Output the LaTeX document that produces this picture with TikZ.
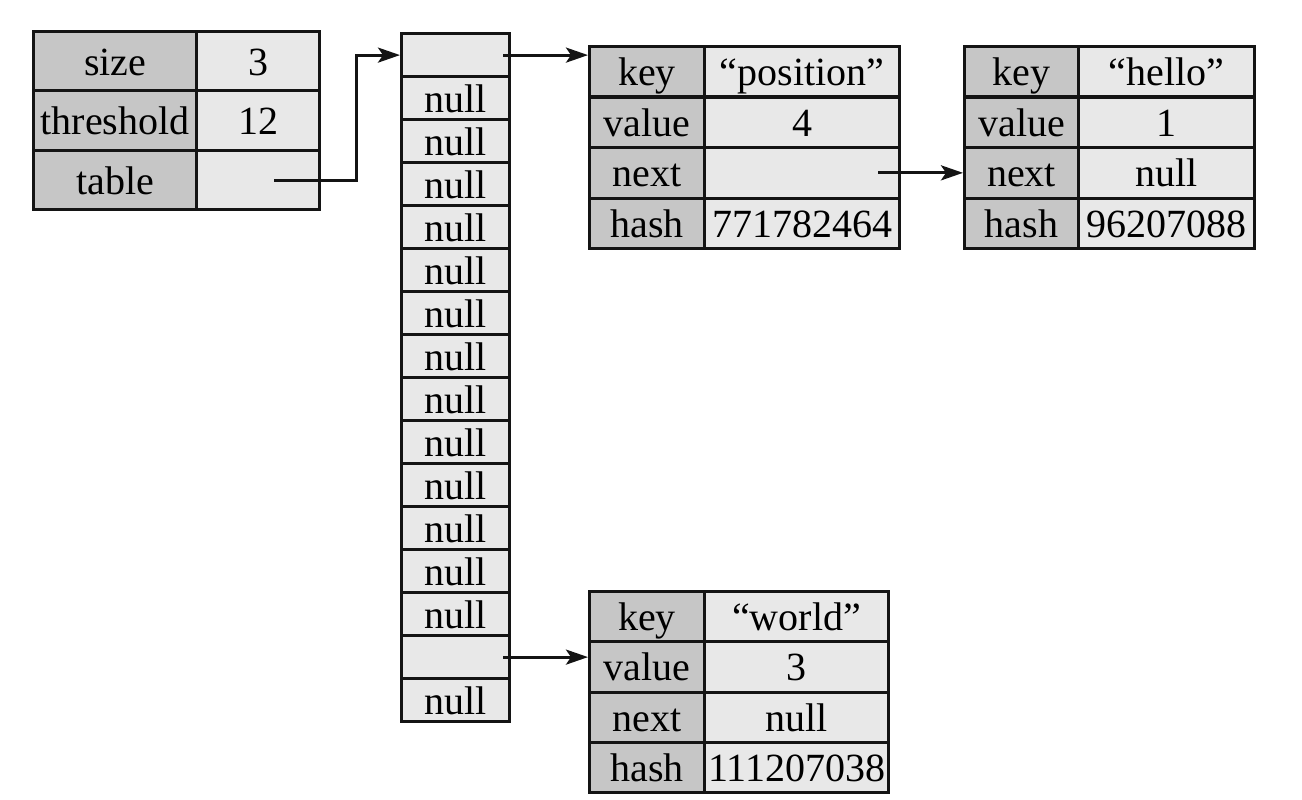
\documentclass[tikz,border=0pt]{standalone}
\usepackage{fontspec}
\setmainfont{Liberation Serif}
\usetikzlibrary{arrows.meta}
\definecolor{keygray}{RGB}{198,198,198}
\definecolor{valgray}{RGB}{232,232,232}
\definecolor{linec}{RGB}{20,20,20}
\newcommand\cellfnt{\fontsize{40}{40}\selectfont}
\tikzset{
  basecell/.style={draw=linec, line width=3.2pt, anchor=north west, inner sep=0pt,
    text height=28pt, text depth=0pt, font=\cellfnt},
  kcell/.style={basecell, fill=keygray},
  vcell/.style={basecell, fill=valgray},
  acell/.style={basecell, fill=valgray, minimum width=108pt, minimum height=43pt},
  arr/.style={draw=linec, line width=3pt, -{Stealth[length=22pt,width=15pt,inset=5pt]}},
}
\begin{document}
\begin{tikzpicture}[x=1pt,y=-1pt]
\useasboundingbox (0,0) rectangle (1302,800);
% HashMap header
\node[kcell, minimum width=163pt, minimum height=59pt] (sizeK) at (32,30) {size};
\node[vcell, minimum width=123pt, minimum height=59pt] (sizeV) at (195,30) {3};
\node[kcell, minimum width=163pt, minimum height=60pt] (thrK) at (32,89) {threshold};
\node[vcell, minimum width=123pt, minimum height=60pt] (thrV) at (195,89) {12};
\node[kcell, minimum width=163pt, minimum height=59pt] (tabK) at (32,149) {table};
\node[vcell, minimum width=123pt, minimum height=59pt] (tabV) at (195,149) {};
% table array
\foreach \i in {1,...,16}{
  \pgfmathsetmacro\yy{32+43*(\i-1)}
  \node[acell] (a\i) at (400,\yy) {\ifnum\i=1 \else\ifnum\i=15 \else null\fi\fi};
}
% entry "position"
\node[kcell, minimum width=115pt, minimum height=50.5pt] (e1kk) at (588,45) {key};
\node[vcell, minimum width=195pt, minimum height=50.5pt] (e1kv) at (703,45) {“position”};
\node[kcell, minimum width=115pt, minimum height=50.5pt] (e1vk) at (588,95.5) {value};
\node[vcell, minimum width=195pt, minimum height=50.5pt] (e1vv) at (703,95.5) {4};
\node[kcell, minimum width=115pt, minimum height=50.5pt] (e1nk) at (588,146) {next};
\node[vcell, minimum width=195pt, minimum height=50.5pt] (e1nv) at (703,146) {};
\node[kcell, minimum width=115pt, minimum height=50.5pt] (e1hk) at (588,196.5) {hash};
\node[vcell, minimum width=195pt, minimum height=50.5pt] (e1hv) at (703,196.5) {771782464};
% entry "hello"
\node[kcell, minimum width=114pt, minimum height=50.5pt] (e2kk) at (963,45) {key};
\node[vcell, minimum width=176pt, minimum height=50.5pt] (e2kv) at (1077,45) {“hello”};
\node[kcell, minimum width=114pt, minimum height=50.5pt] (e2vk) at (963,95.5) {value};
\node[vcell, minimum width=176pt, minimum height=50.5pt] (e2vv) at (1077,95.5) {1};
\node[kcell, minimum width=114pt, minimum height=50.5pt] (e2nk) at (963,146) {next};
\node[vcell, minimum width=176pt, minimum height=50.5pt] (e2nv) at (1077,146) {null};
\node[kcell, minimum width=114pt, minimum height=50.5pt] (e2hk) at (963,196.5) {hash};
\node[vcell, minimum width=176pt, minimum height=50.5pt] (e2hv) at (1077,196.5) {96207088};
% entry "world"
\node[kcell, minimum width=115pt, minimum height=50.25pt] (e3kk) at (588,590) {key};
\node[vcell, minimum width=184pt, minimum height=50.25pt] (e3kv) at (703,590) {“world”};
\node[kcell, minimum width=115pt, minimum height=50.25pt] (e3vk) at (588,640.25) {value};
\node[vcell, minimum width=184pt, minimum height=50.25pt] (e3vv) at (703,640.25) {3};
\node[kcell, minimum width=115pt, minimum height=50.25pt] (e3nk) at (588,690.5) {next};
\node[vcell, minimum width=184pt, minimum height=50.25pt] (e3nv) at (703,690.5) {null};
\node[kcell, minimum width=115pt, minimum height=50.25pt] (e3hk) at (588,740.75) {hash};
\node[vcell, minimum width=184pt, minimum height=50.25pt] (e3hv) at (703,740.75) {111207038};
% connectors
\coordinate (tabS) at ([xshift=16pt]tabV.center);
\coordinate (tabT) at ([xshift=35pt]tabV.east);
\draw[arr] (tabS) -- (tabT) |- (a1.west);
\coordinate (a1S) at ([xshift=-8pt]a1.east);
\draw[arr] (a1S) -- (a1S -| e1kk.west);
\coordinate (e1S) at ([xshift=-23pt]e1nv.east);
\draw[arr] (e1S) -- (e1S -| e2nk.west);
\coordinate (a15S) at ([xshift=-8pt]a15.east);
\draw[arr] (a15S) -- (a15S -| e3vk.west);
\end{tikzpicture}
\end{document}
